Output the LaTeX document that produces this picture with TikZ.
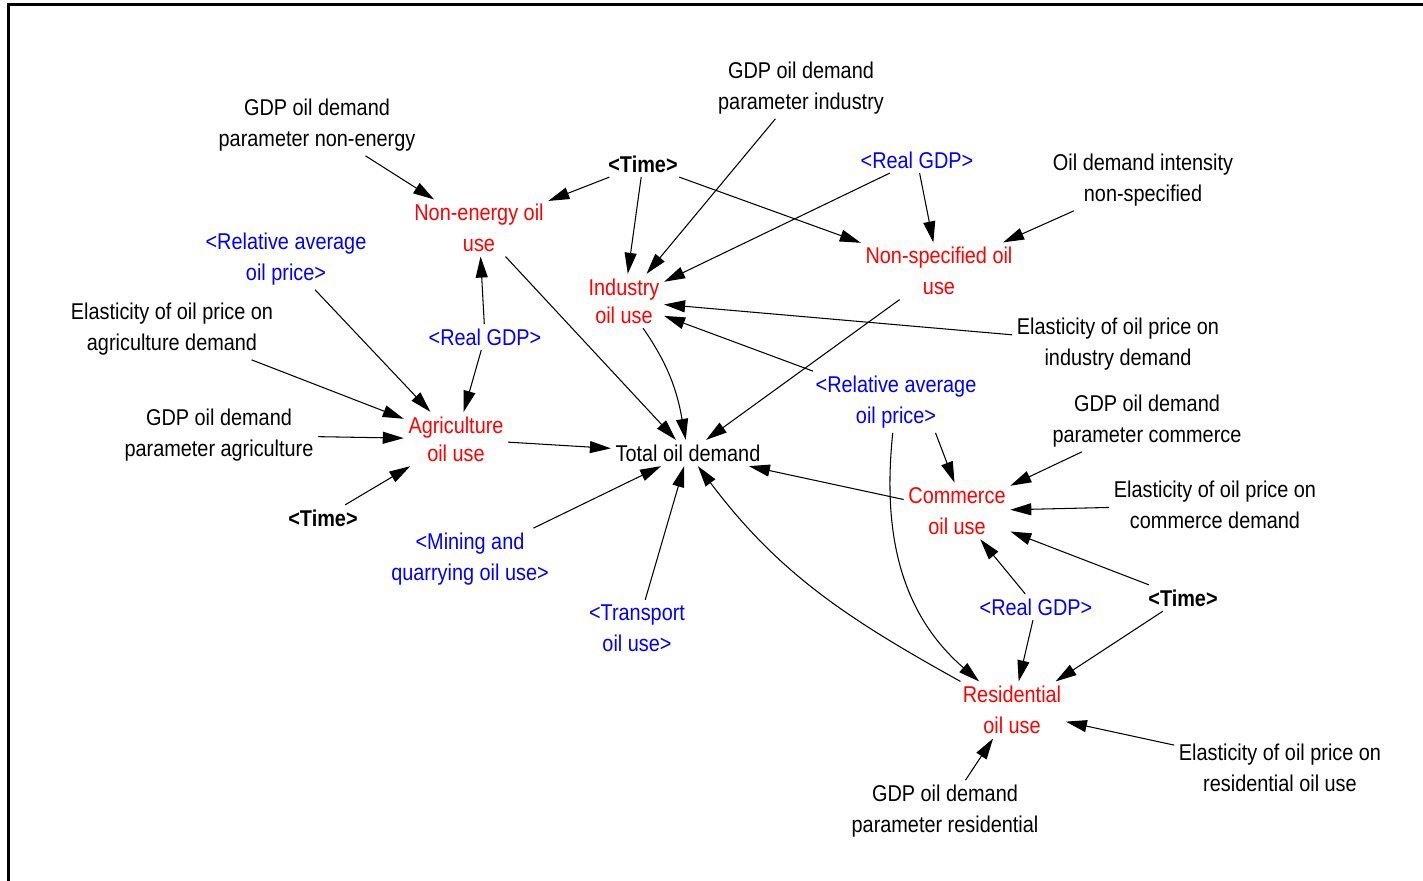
\documentclass[tikz,border=0pt]{standalone}
\usepackage{fontspec}
\setmainfont{Liberation Sans}[FakeStretch=0.87]
\usetikzlibrary{arrows.meta}

\begin{document}
\begin{tikzpicture}[x=0.02cm,y=-0.02cm,
  every node/.style={font=\fontsize{13}{17.6}\selectfont,align=center,inner sep=2.5pt},
  param/.style={text=black},
  level/.style={text=red},
  shadow/.style={text=blue},
  timevar/.style={text=black,font=\fontsize{13}{17.6}\selectfont\bfseries},
  link/.style={-{Triangle[length=0.42cm,width=0.24cm]},line width=0.6pt}]
\useasboundingbox (0,0) rectangle (1423,881);
% Frame of the sketch
\draw[line width=1.7pt] (8.7,881) -- (8.7,4.5) -- (1423,4.5);
% Constants
\node[param] (gdpNE) at (317,125) {GDP oil demand\\parameter non-energy};
\node[param] (gdpInd) at (801,88) {GDP oil demand\\parameter industry};
\node[param] (intens) at (1143,180) {Oil demand intensity\\non-specified};
\node[param] (elAgri) at (172,329) {Elasticity of oil price on\\agriculture demand};
\node[param] (elInd) at (1118,344) {Elasticity of oil price on\\industry demand};
\node[param] (gdpAgri) at (219,435) {GDP oil demand\\parameter agriculture};
\node[param] (gdpCom) at (1147,421) {GDP oil demand\\parameter commerce};
\node[param] (elCom) at (1215,505) {Elasticity of oil price on\\commerce demand};
\node[param] (elRes) at (1280,768) {Elasticity of oil price on\\residential oil use};
\node[param] (gdpRes) at (945,811) {GDP oil demand\\parameter residential};
\node[param] (total) at (688,453) {Total oil demand};
% Time
\node[timevar] (timeA) at (643,164) {<Time>};
\node[timevar] (timeB) at (323,518) {<Time>};
\node[timevar] (timeC) at (1183,598) {<Time>};
% Sector oil use
\node[level] (nonEnergy) at (479,228) {Non-energy oil\\use};
\node[level] (industry) at (624,301) {Industry\\[-1.6pt]oil use};
\node[level] (nonSpec) at (939,271) {Non-specified oil\\use};
\node[level] (agri) at (456,439) {Agriculture\\[-1.6pt]oil use};
\node[level] (commerce) at (957,511) {Commerce\\oil use};
\node[level] (resid) at (1012,710) {Residential\\oil use};
% Shadow variables
\node[shadow] (priceA) at (286,259) {<Relative average\\oil price>};
\node[shadow] (gdpA) at (485,337) {<Real GDP>};
\node[shadow] (gdpB) at (917,160) {<Real GDP>};
\node[shadow] (priceB) at (896,402) {<Relative average\\oil price>};
\node[shadow] (mining) at (470,559) {<Mining and\\quarrying oil use>};
\node[shadow] (transport) at (637,628) {<Transport\\oil use>};
\node[shadow] (gdpC) at (1036,607) {<Real GDP>};
% Links into the sectors
\draw[link] (gdpNE) -- (nonEnergy);
\draw[link] (timeA) -- (nonEnergy);
\draw[link] (gdpA) -- (nonEnergy);
\draw[link] (timeA) -- (industry);
\draw[link] (gdpInd) -- (industry);
\draw[link] (gdpB) -- (industry);
\draw[link] (elInd) -- (industry);
\draw[link] (priceB) -- (industry);
\draw[link] (timeA) -- (nonSpec);
\draw[link] (gdpB) -- (nonSpec);
\draw[link] (intens) -- (nonSpec);
\draw[link] (priceA) -- (agri);
\draw[link] (elAgri) -- (agri);
\draw[link] (gdpAgri) -- (agri);
\draw[link] (timeB) -- (agri);
\draw[link] (gdpA) -- (agri);
\draw[link] (priceB.-38) -- (commerce.95);
\draw[link] (gdpCom) -- (commerce);
\draw[link] (elCom) -- (commerce);
\draw[link] (timeC) -- (commerce);
\draw[link] (gdpC) -- (commerce);
\draw[link] (priceB) to[out=-96,in=139] (resid);
\draw[link] (gdpC) -- (resid);
\draw[link] (timeC) -- (resid);
\draw[link] (elRes) -- (resid);
\draw[link] (gdpRes) -- (resid);
% Links into the total
\draw[link] (nonEnergy) -- (total);
\draw[link] (industry) to[out=-55,in=100] (total);
\draw[link] (nonSpec) -- (total);
\draw[link] (agri) -- (total);
\draw[link] (mining) -- (total);
\draw[link] (transport) -- (total);
\draw[link] (commerce) -- (total);
\draw[link] (resid) to[out=151,in=-53] (total);
\end{tikzpicture}
\end{document}
